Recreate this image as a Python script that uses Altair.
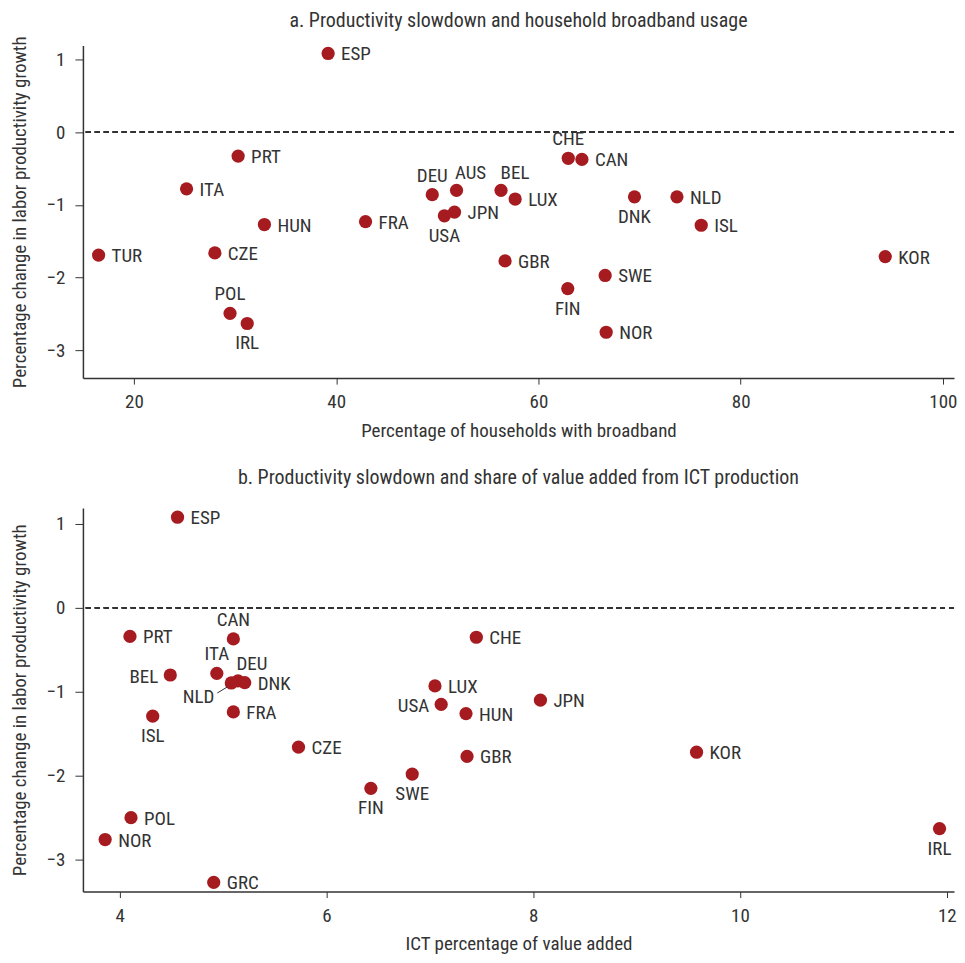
import altair as alt
import pandas as pd

FONT = "Roboto Condensed, DejaVu Sans Condensed, sans-serif"
RED = "#A61B20"
INK = "#333333"

# ---- Panel a: broadband usage ----
countries_a = ["ESP", "PRT", "ITA", "HUN", "FRA", "TUR", "CZE", "POL", "IRL", "DEU",
               "AUS", "JPN", "USA", "CHE", "CAN", "BEL", "LUX", "DNK", "NLD", "ISL",
               "KOR", "GBR", "SWE", "FIN", "NOR"]
broadband_a = [39.2, 30.3, 25.2, 32.9, 42.9, 16.5, 28.0, 29.5, 31.2, 49.5,
               51.9, 51.7, 50.7, 62.95, 64.3, 56.3, 57.7, 69.5, 73.7, 76.1,
               94.3, 56.7, 66.6, 62.9, 66.7]
growth_a = [1.08, -0.33, -0.78, -1.27, -1.23, -1.69, -1.66, -2.49, -2.63, -0.86,
            -0.80, -1.10, -1.15, -0.36, -0.375, -0.80, -0.92, -0.89, -0.89, -1.28,
            -1.71, -1.77, -1.97, -2.15, -2.75]
place_a = ["right", "right", "right", "right", "right", "right", "right", "above", "below", "above",
           "aboveright", "right", "below", "above", "right", "aboveright", "right", "below", "right", "right",
           "right", "right", "right", "below", "right"]

# ---- Panel b: ICT share of value added ----
countries_b = ["ESP", "PRT", "CAN", "ITA", "BEL", "DEU", "NLD", "DNK", "FRA", "ISL",
               "CZE", "SWE", "FIN", "POL", "NOR", "GRC", "LUX", "USA", "HUN", "GBR",
               "CHE", "JPN", "KOR", "IRL"]
ict_b = [4.56, 4.10, 5.10, 4.94, 4.49, 5.145, 5.08, 5.21, 5.10, 4.32,
         5.73, 6.83, 6.43, 4.11, 3.86, 4.91, 7.05, 7.11, 7.35, 7.36,
         7.45, 8.07, 9.58, 11.93]
growth_b = [1.08, -0.34, -0.37, -0.78, -0.80, -0.87, -0.895, -0.89, -1.24, -1.29,
            -1.66, -1.98, -2.15, -2.50, -2.76, -3.27, -0.93, -1.15, -1.26, -1.77,
            -0.35, -1.10, -1.72, -2.63]
place_b = ["right", "right", "above", "above", "left", "aboveright", "belowleft", "right", "right", "below",
           "right", "below", "below", "right", "right", "right", "right", "left", "right", "right",
           "right", "right", "right", "below"]

y_ticks = [1, 0, -1, -2, -3]
x_ticks_a = [20, 40, 60, 80, 100]
x_ticks_b = [4, 6, 8, 10, 12]

df_a = pd.DataFrame({"country": countries_a, "x": broadband_a, "y": growth_a, "pos": place_a})
df_b = pd.DataFrame({"country": countries_b, "x": ict_b, "y": growth_b, "pos": place_b})

LABEL_STYLE = {
    "right": dict(align="left", baseline="middle", dx=13, dy=1),
    "left": dict(align="right", baseline="middle", dx=-12, dy=2),
    "above": dict(align="center", baseline="middle", dx=0, dy=-19),
    "below": dict(align="center", baseline="middle", dx=0, dy=20),
    "aboveright": dict(align="center", baseline="middle", dx=14, dy=-17),
    "belowleft": dict(align="right", baseline="middle", dx=-17, dy=14),
}


def panel(df, title, xtitle, xdomain, xticks, height, title_offset,
          xlabel_pad, xtitle_pad, leader=None):
    xenc = alt.X("x:Q", scale=alt.Scale(domain=xdomain, nice=False, zero=False),
                 axis=alt.Axis(values=xticks, title=xtitle, format="d",
                               labelPadding=xlabel_pad, titlePadding=xtitle_pad))
    yenc = alt.Y("y:Q", scale=alt.Scale(domain=[-3.38, 1.19], nice=False, zero=False),
                 axis=alt.Axis(values=y_ticks, format="d",
                               title="Percentage change in labor productivity growth"))
    base = alt.Chart(df)
    zero = base.mark_rule(color=INK, strokeDash=[5, 4], strokeWidth=1).encode(y=alt.datum(0))
    pts = base.mark_circle(size=175, color=RED, opacity=1).encode(x=xenc, y=yenc)
    layers = [zero, pts]
    for key, st in LABEL_STYLE.items():
        if key in set(df["pos"]):
            layers.append(
                base.transform_filter(alt.datum.pos == key)
                .mark_text(font=FONT, fontSize=19, color=INK, **st)
                .encode(x="x:Q", y="y:Q", text="country:N")
            )
    if leader:
        layers.append(
            base.transform_filter(alt.datum.country == leader)
            .mark_rule(color=INK, strokeWidth=1, xOffset=-14, yOffset=10, x2Offset=-4, y2Offset=4)
            .encode(x="x:Q", y="y:Q", x2="x", y2="y")
        )
    return alt.layer(*layers).properties(
        width=872, height=height,
        title=alt.TitleParams(title, font=FONT, fontSize=20, fontWeight="normal",
                              color=INK, anchor="middle", offset=title_offset),
    )


top = panel(df_a, "a. Productivity slowdown and household broadband usage",
            "Percentage of households with broadband", [14.95, 101.1], x_ticks_a, 333, 5,
            8, 10)
bottom = panel(df_b, "b. Productivity slowdown and share of value added from ICT production",
               "ICT percentage of value added", [3.645, 12.07], x_ticks_b, 384, 20,
               9, 9, leader="NLD")

chart = alt.vconcat(top, bottom, spacing=28).properties(
    padding={"left": 2, "top": 2, "right": 0, "bottom": 0}
).configure_view(
    stroke=None
).configure_axis(
    grid=False,
    domainColor=INK,
    domainWidth=1.5,
    tickColor=INK,
    labelFont=FONT,
    labelFontSize=19,
    labelColor=INK,
    titleFont=FONT,
    titleFontSize=19,
    titleFontWeight="normal",
    titleColor=INK,
).configure_axisX(
    tickSize=6,
).configure_axisY(
    tickSize=8,
    labelPadding=10,
    titlePadding=17,
)

chart.save("out.html", embed_options={"renderer": "svg", "actions": False})
